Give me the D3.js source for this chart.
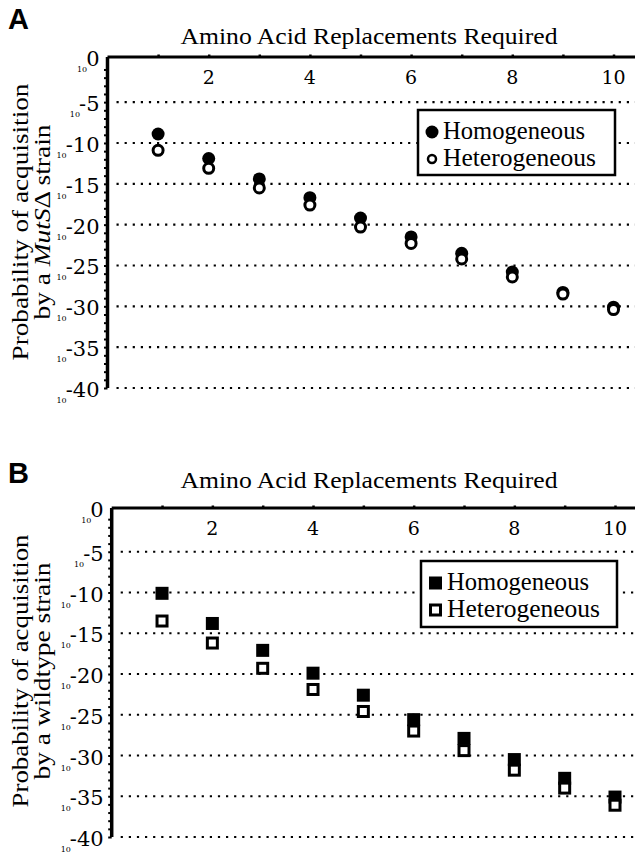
<!DOCTYPE html>
<html>
<head>
<meta charset="utf-8">
<script src="https://cdn.jsdelivr.net/npm/d3@7"></script>
<style>
  body { margin: 0; background: #fff; }
  svg { display: block; }
  text { font-family: "Liberation Serif", "Times New Roman", serif; fill: #000; }
  text.num { font-family: "DejaVu Serif", serif; }
</style>
</head>
<body>
<svg id="chart"></svg>
<script>
var width = 635;
var height = 859;

// data (exponent of 10)
var replacements = [1, 2, 3, 4, 5, 6, 7, 8, 9, 10];
var mutSHomogeneous   = [-8.9, -11.9, -14.4, -16.7, -19.2, -21.5, -23.5, -25.8, -28.3, -30.1];
var mutSHeterogeneous = [-10.9, -13.1, -15.5, -17.6, -20.3, -22.3, -24.2, -26.4, -28.5, -30.4];
var wildHomogeneous   = [-10.1, -13.8, -17.1, -19.9, -22.6, -25.6, -27.9, -30.5, -32.8, -35.1];
var wildHeterogeneous = [-13.5, -16.2, -19.3, -21.9, -24.6, -27.0, -29.4, -31.8, -34.0, -36.1];
var xTickLabels = [2, 4, 6, 8, 10];
var yTickLabels = [0, -5, -10, -15, -20, -25, -30, -35, -40];
var seriesNames = ['Homogeneous', 'Heterogeneous'];

var svg = d3.select('#chart')
  .attr('width', width)
  .attr('height', height);

function drawPanel(p){
  var xScale = d3.scaleLinear().domain([0, 10]).range([p.left, p.right]);
  var yScale = d3.scaleLinear().domain([0, -40]).range([p.top, p.bottom]);

  var g = svg.append('g');

  // panel letter
  g.append('text')
    .attr('x', 8).attr('y', p.letterY)
    .style('font-family', '"Liberation Sans", Arial, sans-serif')
    .style('font-weight', 'bold')
    .style('font-size', '29px')
    .text(p.letter);

  // title
  g.append('text')
    .attr('x', 369).attr('y', p.titleY)
    .attr('text-anchor', 'middle')
    .attr('textLength', 377)
    .attr('lengthAdjust', 'spacingAndGlyphs')
    .style('font-size', '24px')
    .text('Amino Acid Replacements Required');

  // dotted gridlines
  g.selectAll('line.grid')
    .data(yTickLabels.slice(1))
    .enter().append('line')
      .attr('class', 'grid')
      .attr('x1', xScale(0) + 9).attr('x2', width)
      .attr('y1', d => yScale(d)).attr('y2', d => yScale(d))
      .attr('stroke', '#000')
      .attr('stroke-width', 2.2)
      .attr('stroke-dasharray', '2.2 5.9');

  // top axis
  var topAxis = g.append('g')
    .attr('transform', `translate(0, ${p.axisY})`)
    .call(d3.axisTop(xScale)
      .tickValues(replacements)
      .tickSize(2.5)
      .tickSizeOuter(0)
      .tickFormat(''));
  topAxis.select('.domain').attr('d', `M${xScale(0)},0H${width}`).attr('stroke-width', 3);
  topAxis.selectAll('.tick line').attr('stroke-width', 2.5);

  g.selectAll('text.xlab')
    .data(xTickLabels)
    .enter().append('text')
      .attr('class', 'xlab num')
      .attr('x', d => xScale(d))
      .attr('y', p.axisY + 27)
      .attr('text-anchor', 'middle')
      .style('font-size', '19px')
      .text(d => d);

  // left axis with minor ticks
  var leftAxis = g.append('g')
    .attr('transform', `translate(${xScale(0)}, 0)`)
    .call(d3.axisLeft(yScale)
      .tickValues(d3.range(-1, -41, -1))
      .tickSize(3.5)
      .tickSizeOuter(0)
      .tickFormat(''));
  leftAxis.select('.domain').attr('d', `M0,${p.axisY}V${yScale(-40)}`).attr('stroke-width', 3.5);
  leftAxis.selectAll('.tick line').attr('stroke-width', 2);

  // y tick labels as 10^n : big exponent, small "10" tucked to its lower left
  var tickY = d => (d === 0 ? p.axisY : yScale(d)) + 9;
  var expo = g.selectAll('text.ylab')
    .data(yTickLabels)
    .enter().append('text')
      .attr('class', 'ylab num')
      .attr('x', xScale(0) - 8)
      .attr('y', tickY)
      .attr('text-anchor', 'end')
      .style('font-size', '21px')
      .text(d => d);
  expo.each(function(d){
    var w = this.getComputedTextLength();
    g.append('text')
      .attr('class', 'num')
      .attr('x', xScale(0) - 8 - w + 1)
      .attr('y', tickY(d) + 6)
      .attr('text-anchor', 'end')
      .style('font-size', '8px')
      .text('10');
  });

  // y axis title
  var yt = g.append('g')
    .attr('transform', `translate(0, ${p.labelMid}) rotate(-90)`);
  yt.append('text')
    .attr('x', 0).attr('y', 28)
    .attr('text-anchor', 'middle')
    .attr('textLength', p.line1Len)
    .attr('lengthAdjust', 'spacingAndGlyphs')
    .style('font-size', '24px')
    .text('Probability of acquisition');
  var l2 = yt.append('text')
    .attr('x', 0).attr('y', 50)
    .attr('text-anchor', 'middle')
    .attr('textLength', p.line2Len)
    .attr('lengthAdjust', 'spacingAndGlyphs')
    .style('font-size', '24px');
  p.line2.forEach(function(part){
    l2.append('tspan')
      .style('font-style', part[1] ? 'italic' : 'normal')
      .text(part[0]);
  });

  // points: homogeneous filled, heterogeneous open (drawn on top)
  var pts = replacements.map((r, i) => ({x: r, homo: p.homo[i], hetero: p.hetero[i]}));
  if (p.shape === 'circle') {
    g.selectAll('circle.homo').data(pts).enter().append('circle')
      .attr('cx', d => xScale(d.x)).attr('cy', d => yScale(d.homo))
      .attr('r', 6.5).attr('fill', '#000');
    g.selectAll('circle.hetero').data(pts).enter().append('circle')
      .attr('cx', d => xScale(d.x)).attr('cy', d => yScale(d.hetero))
      .attr('r', 5).attr('fill', '#fff').attr('stroke', '#000').attr('stroke-width', 3);
  } else {
    g.selectAll('rect.homo').data(pts).enter().append('rect')
      .attr('x', d => xScale(d.x) - 6.5).attr('y', d => yScale(d.homo) - 6.5)
      .attr('width', 13).attr('height', 13).attr('fill', '#000');
    g.selectAll('rect.hetero').data(pts).enter().append('rect')
      .attr('x', d => xScale(d.x) - 5).attr('y', d => yScale(d.hetero) - 5)
      .attr('width', 10).attr('height', 10)
      .attr('fill', '#fff').attr('stroke', '#000').attr('stroke-width', 3);
  }

  // legend
  var lg = g.append('g').attr('transform', `translate(${p.legend[0]}, ${p.legend[1]})`);
  lg.append('rect')
    .attr('x', 0).attr('y', 0)
    .attr('width', p.legend[2]).attr('height', p.legend[3])
    .attr('fill', '#fff').attr('stroke', '#000').attr('stroke-width', 2.5);
  seriesNames.forEach(function(name, i){
    var cy = 22 + i * 27;
    if (p.shape === 'circle') {
      if (i === 0) lg.append('circle').attr('cx', 14).attr('cy', cy).attr('r', 6.5).attr('fill', '#000');
      else lg.append('circle').attr('cx', 14).attr('cy', cy).attr('r', 4).attr('fill', '#fff').attr('stroke', '#000').attr('stroke-width', 2.5);
    } else {
      if (i === 0) lg.append('rect').attr('x', 8).attr('y', cy - 6.5).attr('width', 13).attr('height', 13).attr('fill', '#000');
      else lg.append('rect').attr('x', 9.5).attr('y', cy - 5).attr('width', 10).attr('height', 10).attr('fill', '#fff').attr('stroke', '#000').attr('stroke-width', 3);
    }
    lg.append('text')
      .attr('x', p.legendTextX).attr('y', cy + 7)
      .attr('textLength', i === 0 ? 142 : 153)
      .attr('lengthAdjust', 'spacingAndGlyphs')
      .style('font-size', '26px')
      .text(name);
  });
}

drawPanel({
  letter: 'A', letterY: 29, titleY: 44,
  left: 107.5, right: 613.5, top: 61.3, bottom: 388, axisY: 57,
  labelMid: 222, line1Len: 277, line2Len: 195,
  line2: [['by a ', false], ['MutS', true], ['\u0394 strain', false]],
  homo: mutSHomogeneous, hetero: mutSHeterogeneous, shape: 'circle',
  legend: [418, 110, 197, 65], legendTextX: 25
});

drawPanel({
  letter: 'B', letterY: 483, titleY: 488,
  left: 111.7, right: 615, top: 511, bottom: 837, axisY: 508,
  labelMid: 671, line1Len: 273, line2Len: 217,
  line2: [['by a wildtype strain', false]],
  homo: wildHomogeneous, hetero: wildHeterogeneous, shape: 'square',
  legend: [421, 561, 196, 66], legendTextX: 26
});
</script>
</body>
</html>
